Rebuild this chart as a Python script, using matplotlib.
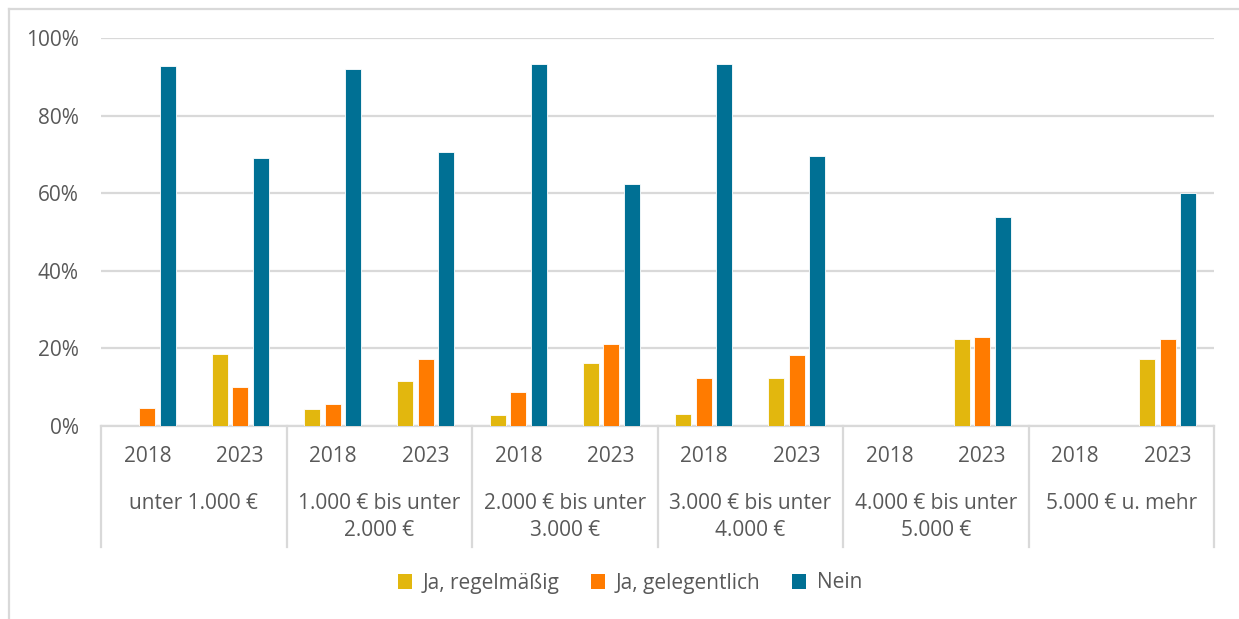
import matplotlib
matplotlib.use("Agg")
import matplotlib.pyplot as plt
import matplotlib.transforms as mtransforms
from matplotlib.patches import Patch
from matplotlib.lines import Line2D
import numpy as np

plt.rcParams['font.family'] = ['Open Sans', 'DejaVu Sans']

groups = ["unter 1.000 €", "1.000 € bis unter\n2.000 €", "2.000 € bis unter\n3.000 €",
          "3.000 € bis unter\n4.000 €", "4.000 € bis unter\n5.000 €", "5.000 € u. mehr"]
years = ["2018", "2023"]
series_names = ["Ja, regelmäßig", "Ja, gelegentlich", "Nein"]
# order: per group 2018, 2023 (NaN = no data)
regelmaessig = [np.nan, 18.6, 4.5, 11.6, 2.9, 16.2, 3.1, 12.3, np.nan, 22.3, np.nan, 17.2]
gelegentlich = [4.7, 10.1, 5.6, 17.2, 8.8, 21.1, 12.3, 18.4, np.nan, 23.0, np.nan, 22.4]
nein = [92.7, 69.1, 92.0, 70.7, 93.4, 62.5, 93.2, 69.7, np.nan, 53.8, np.nan, 60.0]
colors = ["#E2B70E", "#FF7B00", "#007094"]

W, H = 1239, 619
fig = plt.figure(figsize=(W / 100, H / 100), dpi=100)
left, right, bottom, top = 101, 1214, 426, 38
ax = fig.add_axes([left / W, 1 - bottom / H, (right - left) / W, (bottom - top) / H])

text_col = "#595959"
grid_col = "#D9D9D9"
n = len(years) * len(groups)
x = np.arange(n)
offs = [-0.22, 0.0, 0.22]
bw = 0.172
for vals, off, c in zip([regelmaessig, gelegentlich, nein], offs, colors):
    v = np.array(vals, dtype=float)
    m = ~np.isnan(v)
    ax.bar(x[m] + off, v[m], width=bw, color=c, edgecolor="white", linewidth=0.6, zorder=3)

ax.set_xlim(-0.5, n - 0.5)
ax.set_ylim(0, 100)
ax.set_yticks(np.arange(0, 101, 20))
ax.set_yticklabels([f"{v}%" for v in range(0, 101, 20)])
ax.yaxis.grid(True, color=grid_col, linewidth=1.6, zorder=0)
ax.set_axisbelow(True)
ax.tick_params(axis='y', length=0, pad=16, labelsize=15, labelcolor=text_col)
ax.set_xticks([])
for s in ["top", "right", "left"]:
    ax.spines[s].set_visible(False)
ax.spines["bottom"].set_color(grid_col)
ax.spines["bottom"].set_linewidth(1.6)

trans = mtransforms.blended_transform_factory(ax.transData, ax.transAxes)
axh = bottom - top
for i in range(n):
    ax.text(x[i], -(457 - bottom) / axh, years[i % 2], transform=trans,
            ha="center", va="center", fontsize=15, color=text_col)
for g, lab in enumerate(groups):
    ax.text(2 * g + 0.5, -(493 - bottom) / axh, lab, transform=trans,
            ha="center", va="top", fontsize=15, color=text_col, linespacing=1.35)
for k in range(len(groups) + 1):
    xs = 2 * k - 0.5
    ax.plot([xs, xs], [0, -(547 - bottom) / axh], transform=trans, color=grid_col,
            linewidth=1.6, clip_on=False)

handles = [Patch(facecolor=c, edgecolor="none") for c in colors]
leg = fig.legend(handles, series_names, loc="center", bbox_to_anchor=(630 / W, 1 - 583 / H),
                 ncol=3, frameon=False, fontsize=15, handlelength=0.7, handleheight=0.7,
                 handletextpad=0.5, columnspacing=1.5)
for t in leg.get_texts():
    t.set_color(text_col)

# outer frame (left and top borders)
fig.add_artist(Line2D([8.5 / W, 8.5 / W], [1 - 8.5 / H, 0], transform=fig.transFigure,
                      color=grid_col, linewidth=1.6))
fig.add_artist(Line2D([8.5 / W, 1], [1 - 8.5 / H, 1 - 8.5 / H], transform=fig.transFigure,
                      color=grid_col, linewidth=1.6))

fig.savefig("out.png", dpi=100)
